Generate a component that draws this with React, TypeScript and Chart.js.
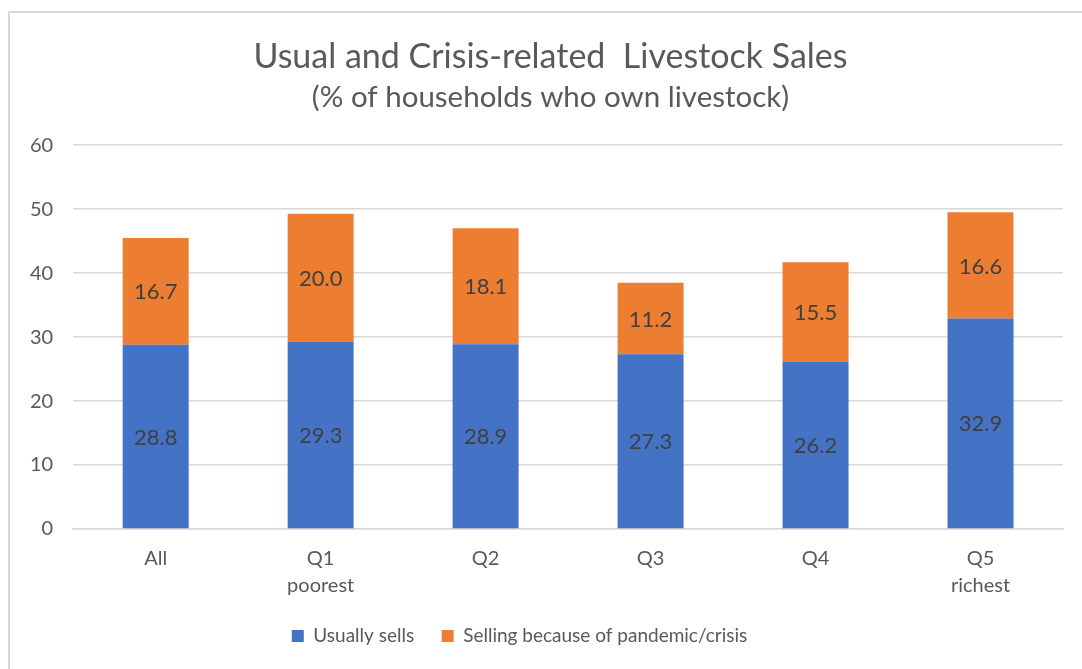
import React, { useEffect, useRef } from "react";
import { Chart, registerables } from "chart.js";

Chart.register(...registerables);

const categories: (string | string[])[] = ["All", ["Q1", "poorest"], "Q2", "Q3", "Q4", ["Q5", "richest"]];
const usuallySells = [28.8, 29.3, 28.9, 27.3, 26.2, 32.9];
const crisisSells = [16.7, 20.0, 18.1, 11.2, 15.5, 16.6];
const yTicks = [0, 10, 20, 30, 40, 50, 60];

const FONT = "Lato, 'Open Sans', sans-serif";

const barLabels = {
  id: "barLabels",
  afterDatasetsDraw(chart: any) {
    const ctx = chart.ctx;
    ctx.save();
    ctx.font = `22px ${FONT}`;
    ctx.fillStyle = "#404040";
    ctx.textAlign = "center";
    ctx.textBaseline = "middle";
    chart.data.datasets.forEach((ds: any, di: number) => {
      const meta = chart.getDatasetMeta(di);
      meta.data.forEach((bar: any, i: number) => {
        const v = ds.data[i];
        const y = (bar.y + bar.base) / 2;
        ctx.fillText(v.toFixed(1), bar.x, y + 1);
      });
    });
    ctx.restore();
  },
};

const shiftBlocks = {
  id: "shiftBlocks",
  afterLayout(chart: any) {
    if (chart.legend) {
      chart.legend.left -= 17;
      chart.legend.right -= 17;
    }
    chart.boxes.forEach((box: any) => {
      if (box.position === "top" && !box.axis) {
        box.left += 14;
        box.right += 14;
        box.top += 1;
        box.bottom += 1;
      }
    });
  },
};

export default function App() {
  const ref = useRef<HTMLCanvasElement>(null);
  useEffect(() => {
    if (!ref.current) return;
    const chart = new Chart(ref.current, {
      type: "bar",
      data: {
        labels: categories,
        datasets: [
          { label: "Usually sells", data: usuallySells, backgroundColor: "#4472C4", barPercentage: 0.4, categoryPercentage: 1 },
          { label: "Selling because of pandemic/crisis", data: crisisSells, backgroundColor: "#ED7D31", barPercentage: 0.4, categoryPercentage: 1 },
        ],
      },
      options: {
        animation: false,
        responsive: true,
        maintainAspectRatio: false,
        layout: { padding: { left: 0, right: 19, top: 23, bottom: 13.5 } },
        plugins: {
          title: {
            display: true,
            text: "Usual and Crisis-related  Livestock Sales",
            color: "#595959",
            font: { family: FONT, size: 34, weight: "normal" },
            padding: { top: 0, bottom: 2 },
          },
          subtitle: {
            display: true,
            text: "(% of households who own livestock)",
            color: "#595959",
            font: { family: FONT, size: 29.5, weight: "normal" },
            padding: { top: 0, bottom: 31 },
          },
          legend: {
            position: "bottom",
            labels: {
              color: "#595959",
              font: { family: FONT, size: 19 },
              boxWidth: 12,
              boxHeight: 12,
              padding: 27.5,
            },
          },
          tooltip: { enabled: false },
        },
        scales: {
          x: {
            stacked: true,
            grid: { display: false, drawTicks: false },
            border: { color: "#d9d9d9", width: 1.5 },
            ticks: {
              color: "#595959",
              font: { family: FONT, size: 20, lineHeight: 1.35 },
              padding: 16,
              maxRotation: 0,
            },
            afterFit: (scale: any) => {
              scale.height = 70;
            },
          },
          y: {
            stacked: true,
            min: yTicks[0],
            max: yTicks[yTicks.length - 1],
            grid: { color: "#d9d9d9", lineWidth: 1.5, drawTicks: false },
            border: { display: false },
            ticks: { stepSize: 10, color: "#595959", font: { family: FONT, size: 20 }, padding: 20 },
          },
        },
      },
      plugins: [barLabels, shiftBlocks],
    });
    return () => chart.destroy();
  }, []);
  return (
    <div
      style={{
        position: "absolute",
        left: 8,
        top: 11,
        width: 1072,
        height: 656,
        borderLeft: "2px solid #d9d9d9",
        borderTop: "2px solid #d9d9d9",
        background: "#fff",
      }}
    >
      <canvas ref={ref} />
    </div>
  );
}
